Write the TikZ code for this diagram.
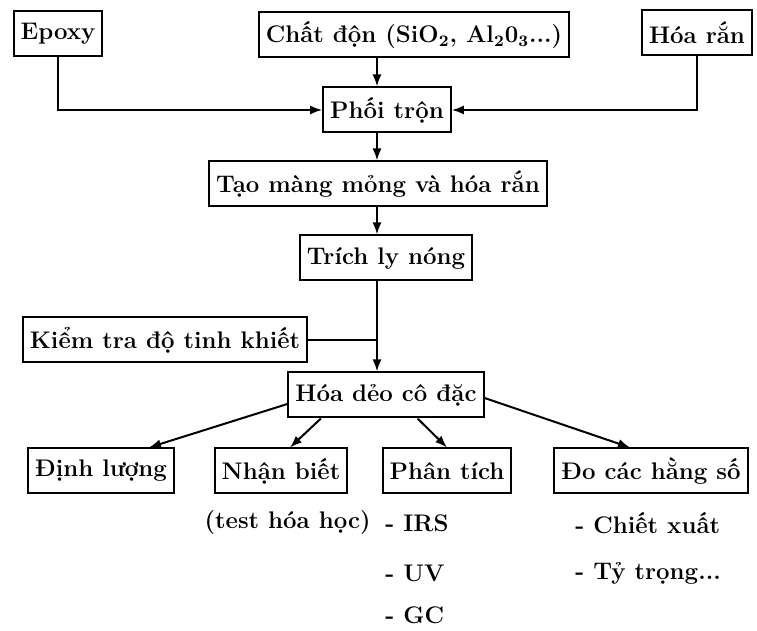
\documentclass[tikz,border=0pt]{standalone}
\usepackage{fontspec}
\usepackage{tikz}
\usetikzlibrary{calc, arrows.meta}

\tikzset{
  stage/.style={draw, line width=1pt, minimum height=22.5pt, inner xsep=3.5pt, font=\fontsize{12}{14}\selectfont\bfseries},
  note/.style={anchor=west, inner sep=0pt, font=\fontsize{12}{14}\selectfont\bfseries},
  flow/.style={line width=1pt, -{Latex[length=6pt, width=4.5pt]}}
}

\begin{document}
\begin{tikzpicture}[x=0.5pt, y=-0.5pt]
        \useasboundingbox (0,0) rectangle (757,631);
        
        % Inputs
        \node[stage] (epoxy) at (58,34) {Epoxy};
        \node[stage] (filler) at (414,35) {Chất độn (SiO\textsubscript{2}, Al\textsubscript{2}0\textsubscript{3}...)};
        \node[stage] (hardener) at (697,33) {Hóa rắn};
        
        % Main chain
        \node[stage] (mix) at (387,110) {Phối trộn};
        \node[stage] (film) at (378,184) {Tạo màng mỏng và hóa rắn};
        \node[stage] (extract) at (386,258) {Trích ly nóng};
        \node[stage] (purity) at (165,340) {Kiểm tra độ tinh khiết};
        \node[stage] (plastic) at (386,395) {Hóa dẻo cô đặc};
        \coordinate (spine) at (377,0);
        
        % Outputs
        \node[stage] (quant) at (101,471) {Định lượng};
        \node[stage] (ident) at (281,471) {Nhận biết};
        \node[stage] (analysis) at (447,471) {Phân tích};
        \node[stage] (const) at (651,471) {Đo các hằng số};
        
        % Notes under the outputs
        \node[note, anchor=east] (test) at (371,523) {(test hóa học)};
        \node[note] (irs) at (385,523) {- IRS};
        \node[note] (uv) at (385,573) {- UV};
        \node[note] (gc) at (385,615) {- GC};
        \node[note] (chiet) at (575,523) {- Chiết xuất};
        \node[note] (density) at (575,573) {- Tỷ trọng...};
        
        % Connectors
        \draw[flow] (epoxy) |- (mix);
        \draw[flow] (hardener) |- (mix);
        \draw[flow] (filler.south -| spine) -- (mix.north -| spine);
        \draw[flow] (mix.south -| spine) -- (film.north -| spine);
        \draw[flow] (film.south -| spine) -- (extract.north -| spine);
        \draw[flow] (extract.south -| spine) -- (plastic.north -| spine);
        \draw[line width=1pt] (purity.east) -- (purity.east -| spine);
        \draw[flow] ($(plastic.west)+(0,9)$) -- ($(quant.north)!.65!(quant.north east)$);
        \draw[flow] ($(plastic.south west)!.17!(plastic.south east)$) -- ($(ident.north)+(9,0)$);
        \draw[flow] ($(plastic.south west)!.66!(plastic.south east)$) -- (analysis.north);
        \draw[flow] ($(plastic.east)+(0,3)$) -- ($(const.north)+(-21,0)$);
    \end{tikzpicture}
\end{document}
